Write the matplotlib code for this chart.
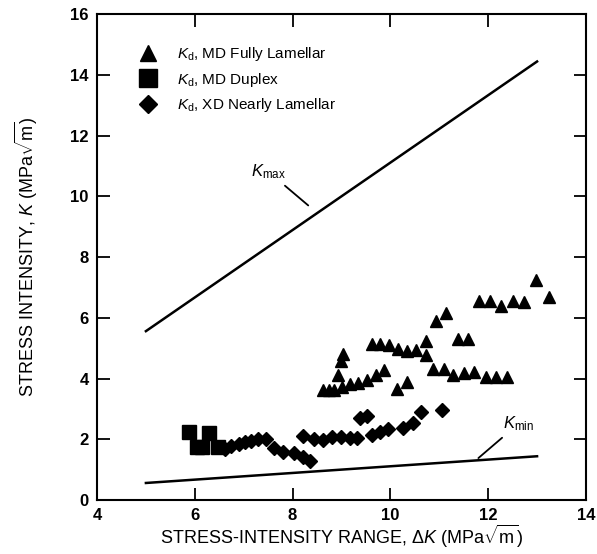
import matplotlib.pyplot as plt

plt.rcParams['font.family'] = ['Liberation Sans', 'DejaVu Sans']
plt.rcParams['mathtext.fontset'] = 'custom'
plt.rcParams['mathtext.it'] = 'Liberation Sans:italic'
plt.rcParams['mathtext.rm'] = 'Liberation Sans'

# Kmax / Kmin lines (R = 0.1)
dk_line = [5.0, 13.0]
kmax_line = [5.56, 14.44]
kmin_line = [0.56, 1.44]

# Kd, MD Fully Lamellar (triangles)
tri_x = [8.62, 8.75, 8.84, 8.92, 9.00, 9.03, 9.02, 9.18, 9.34, 9.52, 9.70, 9.86,
         9.62, 9.79, 9.98, 10.16, 10.34, 10.52, 10.72, 10.73, 10.93, 11.14,
         10.13, 10.34, 11.38, 11.59,
         10.88, 11.09, 11.29, 11.51, 11.72, 11.95, 12.17, 12.39,
         11.81, 12.03, 12.26, 12.51, 12.74, 12.98, 13.25]
tri_y = [3.62, 3.62, 3.62, 4.11, 4.58, 4.82, 3.73, 3.82, 3.86, 3.95, 4.10, 4.28,
         5.15, 5.15, 5.10, 4.96, 4.90, 4.95, 4.76, 5.22, 5.90, 6.16,
         3.66, 3.88, 5.29, 5.31,
         4.30, 4.32, 4.10, 4.19, 4.21, 4.06, 4.06, 4.06,
         6.56, 6.56, 6.38, 6.56, 6.51, 7.24, 6.69]

# Kd, MD Duplex (squares)
sq_x = [5.89, 6.05, 6.15, 6.30, 6.48]
sq_y = [2.25, 1.75, 1.75, 2.21, 1.75]

# Kd, XD Nearly Lamellar (diamonds)
dia_x = [6.62, 6.75, 6.90, 7.02, 7.15, 7.30, 7.45, 7.61, 7.81, 8.02, 8.22, 8.36,
         8.21, 8.43, 8.62, 8.80, 8.99, 9.17, 9.32, 9.38, 9.52,
         9.62, 9.79, 9.96, 10.26, 10.47, 10.63, 11.05]
dia_y = [1.68, 1.78, 1.85, 1.90, 1.95, 2.00, 2.00, 1.70, 1.59, 1.54, 1.43, 1.28,
         2.11, 2.00, 1.97, 2.08, 2.06, 2.03, 2.03, 2.69, 2.76,
         2.14, 2.25, 2.33, 2.36, 2.52, 2.89, 2.96]

fig = plt.figure(figsize=(5.97, 5.54), dpi=100)
ax = fig.add_axes([0.1625, 0.0975, 0.819, 0.877])

ax.plot(dk_line, kmax_line, color='black', lw=1.8)
ax.plot(dk_line, kmin_line, color='black', lw=1.8)

ax.plot(tri_x, tri_y, '^', color='black', ms=9, ls='none',
        label=r'$K_\mathrm{d}$, MD Fully Lamellar')
ax.plot(sq_x, sq_y, 's', color='black', ms=10, ls='none',
        label=r'$K_\mathrm{d}$, MD Duplex')
ax.plot(dia_x, dia_y, 'D', color='black', ms=7, ls='none',
        label=r'$K_\mathrm{d}$, XD Nearly Lamellar')

ax.annotate(r'$K_\mathrm{max}$', xy=(8.32, 9.7), xytext=(7.15, 10.5),
            fontsize=12, arrowprops=dict(arrowstyle='-', color='black', lw=1.3,
                                         shrinkA=2, shrinkB=0),
            ha='left', va='bottom')
ax.annotate(r'$K_\mathrm{min}$', xy=(11.8, 1.38), xytext=(12.3, 2.2),
            fontsize=12, arrowprops=dict(arrowstyle='-', color='black', lw=1.3,
                                         shrinkA=2, shrinkB=0),
            ha='left', va='bottom')

ax.set_xlim(4, 14)
ax.set_ylim(0, 16)
ax.set_xticks([4, 6, 8, 10, 12, 14])
ax.set_yticks(range(0, 17, 2))
ax.tick_params(direction='in', length=9, width=1.3, top=True, right=True,
               labelsize=12, pad=6)
for lab in ax.get_xticklabels() + ax.get_yticklabels():
    lab.set_fontweight('bold')
for s in ax.spines.values():
    s.set_linewidth(1.5)

ax.set_xlabel(r'STRESS-INTENSITY RANGE, $\Delta K$ (MPa$\sqrt{\mathrm{m}}$)',
              fontsize=13, labelpad=0)
ax.set_ylabel(r'STRESS INTENSITY, $K$ (MPa$\sqrt{\mathrm{m}}$)',
              fontsize=13, labelpad=22)

ax.legend(loc='upper left', bbox_to_anchor=(0.045, 0.965), frameon=False,
          fontsize=11, handletextpad=0.9, labelspacing=0.5, markerscale=1.3)

fig.savefig('out.png', dpi=100)
